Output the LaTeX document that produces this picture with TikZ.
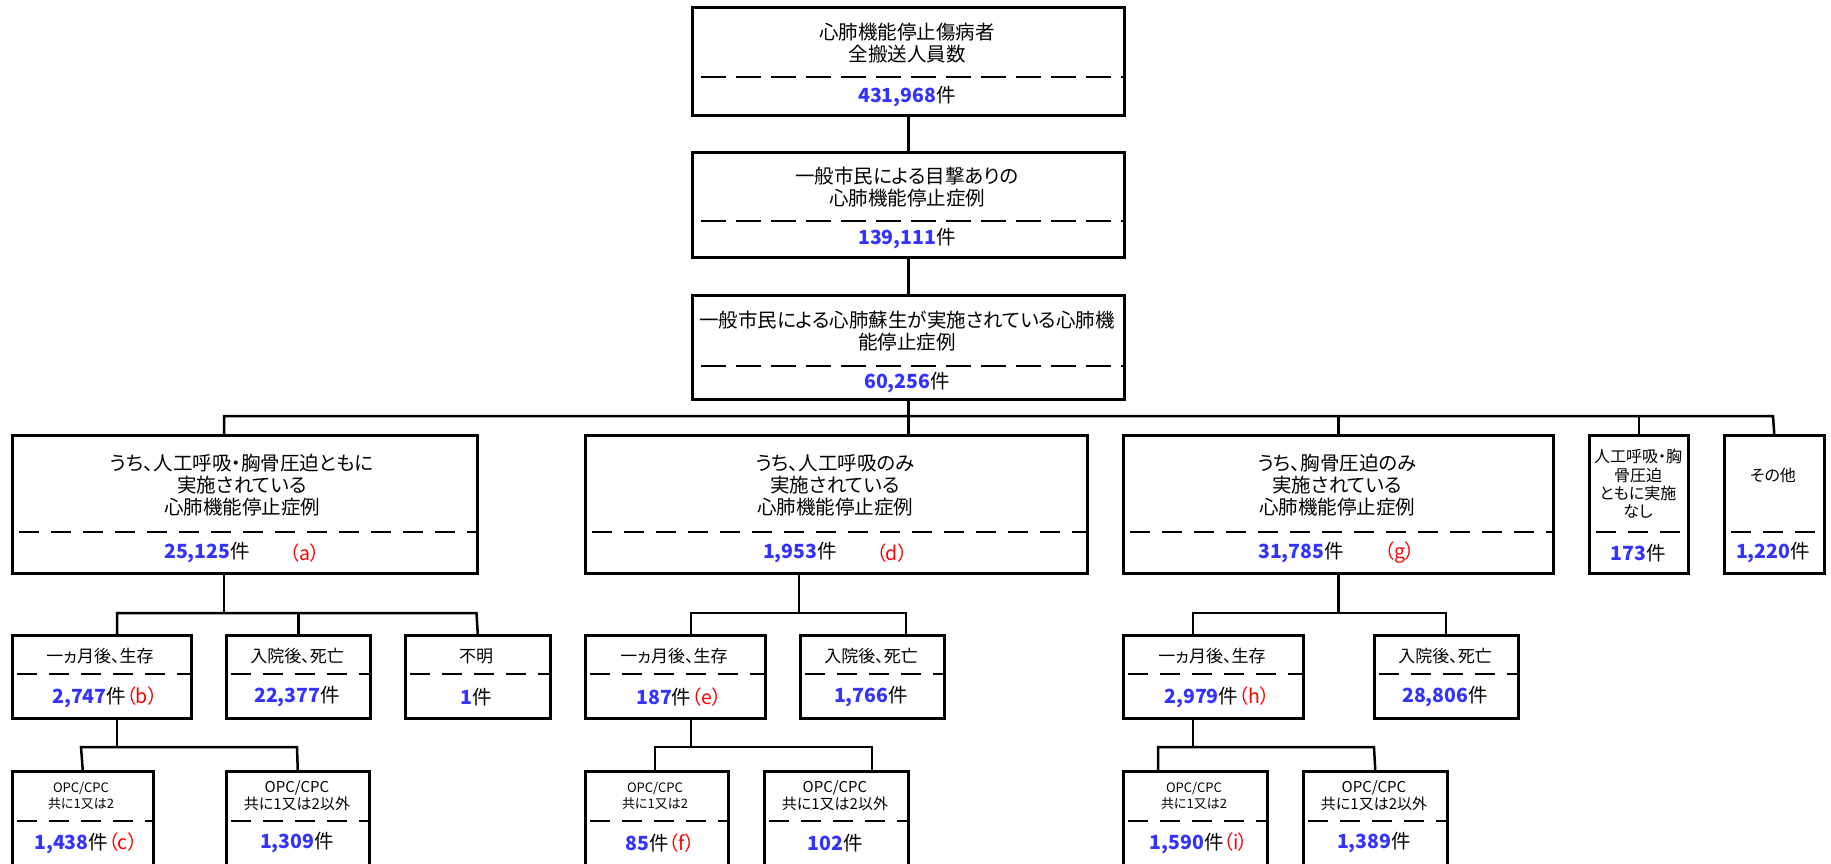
\documentclass[tikz,border=0pt]{standalone}
\usepackage{fontspec}
\setmainfont{Noto Sans CJK JP}[RawFeature=+palt]
\definecolor{numblue}{RGB}{51,51,255}
\definecolor{tagred}{RGB}{255,0,0}
\newcommand\numv[1]{{\bfseries\color{numblue}#1}}
\newcommand\tagr[1]{{\color{tagred}（#1）}}
\begin{document}
\begin{tikzpicture}[x=1pt,y=-1pt,
  panel/.style={draw, line width=2.5pt, rectangle, inner sep=0pt, anchor=north west},
  wire/.style={line width=2.5pt, line join=miter},
  divider/.style={line width=2.5pt, dash pattern=on 20pt off 12pt},
  divtop/.style={line width=2.5pt, dash pattern=on 25pt off 10pt},
  txtbig/.style={align=center, inner sep=0pt, font=\fontsize{19.5}{22}\selectfont},
  txtmid/.style={align=center, inner sep=0pt, font=\fontsize{16}{18.3}\selectfont},
  txtl4/.style={align=center, inner sep=0pt, font=\fontsize{17}{20}\selectfont},
  txtsm/.style={align=center, inner sep=0pt, font=\fontsize{13}{16}\selectfont},
  txtl5/.style={align=center, inner sep=0pt, font=\fontsize{15}{17}\selectfont},
  count/.style={inner sep=0pt, font=\fontsize{19.5}{22}\selectfont}]
\useasboundingbox (0,0) rectangle (1831,863);
\clip (0,0) rectangle (1831,863);

% ---- top chain ----
\node[panel, minimum width=432pt, minimum height=108pt] (top) at (691,6) {};
\node[panel, minimum width=432pt, minimum height=105pt] (wit) at (691,151) {};
\node[panel, minimum width=432pt, minimum height=104pt] (cpr) at (691,294) {};
\draw[divtop] (top.west |- 0,77) ++(10,0) -- (top.east |- 0,77);
\draw[divtop] (wit.west |- 0,221) ++(10,0) -- (wit.east |- 0,221);
\draw[divtop] (cpr.west |- 0,366) ++(10,0) -- (cpr.east |- 0,366);
\node[txtbig] (topL) at (907,43) {心肺機能停止傷病者\\全搬送人員数};
\node[count] (topN) at (907,97) {\numv{431,968}件};
\node[txtbig] (witL) at (907,187) {一般市民による目撃ありの\\心肺機能停止症例};
\node[count] (witN) at (907,239) {\numv{139,111}件};
\node[txtbig] (cprL) at (907,331) {一般市民による心肺蘇生が実施されている心肺機\\能停止症例};
\node[count] (cprN) at (907,383) {\numv{60,256}件};

% ---- second level ----
\node[panel, minimum width=465pt, minimum height=138pt] (a) at (11,434) {};
\node[panel, minimum width=502pt, minimum height=138pt] (d) at (584,434) {};
\node[panel, minimum width=430pt, minimum height=138pt] (g) at (1122,434) {};
\node[panel, minimum width=99pt, minimum height=138pt] (none) at (1588,434) {};
\node[panel, minimum width=100pt, minimum height=138pt] (other) at (1723,434) {};
\foreach \n in {a,d,g,none,other}
  \draw[divider] (\n.west |- 0,532) ++(8,0) -- (\n.east |- 0,532);
\node[txtbig] (aL) at (242,485) {うち、人工呼吸・胸骨圧迫ともに\\実施されている\\心肺機能停止症例};
\node[count] (aN) at (207,553) {\numv{25,125}件};
\node[count] (aT) at (305,553) {\tagr{a}};
\node[txtbig] (dL) at (835,485) {うち、人工呼吸のみ\\実施されている\\心肺機能停止症例};
\node[count] (dN) at (800,553) {\numv{1,953}件};
\node[count] (dT) at (892,553) {\tagr{d}};
\node[txtbig] (gL) at (1337,485) {うち、胸骨圧迫のみ\\実施されている\\心肺機能停止症例};
\node[count] (gN) at (1301,553) {\numv{31,785}件};
\node[count] (gT) at (1400,553) {\tagr{g}};
\node[txtmid] (noneL) at (1638,484) {人工呼吸・胸\\骨圧迫\\ともに実施\\なし};
\node[count] (noneN) at (1638,553) {\numv{173}件};
\node[txtmid] (otherL) at (1773,475) {その他};
\node[count] (otherN) at (1773,553) {\numv{1,220}件};

% ---- third level ----
\node[panel, minimum width=179pt, minimum height=83pt] (b) at (11,634) {};
\node[panel, minimum width=144pt, minimum height=83pt] (ba) at (225,634) {};
\node[panel, minimum width=145pt, minimum height=83pt] (bu) at (404,634) {};
\node[panel, minimum width=180pt, minimum height=83pt] (e) at (584,634) {};
\node[panel, minimum width=144pt, minimum height=83pt] (ea) at (799,634) {};
\node[panel, minimum width=180pt, minimum height=83pt] (h) at (1122,634) {};
\node[panel, minimum width=144pt, minimum height=83pt] (ha) at (1373,634) {};
\foreach \n in {b,ba,bu,e,ea,h,ha}
  \draw[divider] (\n.west |- 0,674) ++(6,0) -- (\n.east |- 0,674);
\node[txtl4] (bL) at (100,656) {一ヵ月後、生存};
\node[count] (bN) at (105,697) {\numv{2,747}件\tagr{b}};
\node[txtl4] (baL) at (297,656) {入院後、死亡};
\node[count] (baN) at (297,697) {\numv{22,377}件};
\node[txtl4] (buL) at (476,656) {不明};
\node[count] (buN) at (476,697) {\numv{1}件};
\node[txtl4] (eL) at (674,656) {一ヵ月後、生存};
\node[count] (eN) at (679,697) {\numv{187}件\tagr{e}};
\node[txtl4] (eaL) at (871,656) {入院後、死亡};
\node[count] (eaN) at (871,697) {\numv{1,766}件};
\node[txtl4] (hL) at (1212,656) {一ヵ月後、生存};
\node[count] (hN) at (1217,697) {\numv{2,979}件\tagr{h}};
\node[txtl4] (haL) at (1445,656) {入院後、死亡};
\node[count] (haN) at (1445,697) {\numv{28,806}件};

% ---- fourth level (runs past the lower edge) ----
\node[panel, minimum width=141pt, minimum height=130pt] (c) at (11,770) {};
\node[panel, minimum width=143pt, minimum height=130pt] (ca) at (225,770) {};
\node[panel, minimum width=143pt, minimum height=130pt] (f) at (584,770) {};
\node[panel, minimum width=144pt, minimum height=130pt] (fa) at (763,770) {};
\node[panel, minimum width=144pt, minimum height=130pt] (i) at (1122,770) {};
\node[panel, minimum width=144pt, minimum height=130pt] (ia) at (1302,770) {};
\foreach \n in {c,ca,f,fa,i,ia}
  \draw[divider] (\n.west |- 0,821) ++(6,0) -- (\n.east |- 0,821);
\node[txtsm] (cL) at (81,796) {OPC/CPC\\共に1又は2};
\node[count] (cN) at (86,843) {\numv{1,438}件\tagr{c}};
\node[txtl5] (caL) at (297,796) {OPC/CPC\\共に1又は2以外};
\node[count] (caN) at (297,843) {\numv{1,309}件};
\node[txtsm] (fL) at (655,796) {OPC/CPC\\共に1又は2};
\node[count] (fN) at (660,843) {\numv{85}件\tagr{f}};
\node[txtl5] (faL) at (835,796) {OPC/CPC\\共に1又は2以外};
\node[count] (faN) at (835,843) {\numv{102}件};
\node[txtsm] (iL) at (1194,796) {OPC/CPC\\共に1又は2};
\node[count] (iN) at (1199,843) {\numv{1,590}件\tagr{i}};
\node[txtl5] (iaL) at (1374,796) {OPC/CPC\\共に1又は2以外};
\node[count] (iaN) at (1374,843) {\numv{1,389}件};

% ---- connectors ----
\coordinate (busW) at (224,416);
\coordinate (busE) at (1773,416);
\draw[wire] (top.south) -- (wit.north);
\draw[wire] (wit.south) -- (cpr.north);
\draw[wire] (cpr.south) -- (cpr.south |- d.north);
\draw[wire] (busW |- a.north) -- (busW) -- (busE) -- (other.north);
\draw[wire] (g.north) -- (g.north |- busW);
\draw[wire] (none.north) -- (none.north |- busW);

% under a
\coordinate (aBusW) at (117,613);
\coordinate (aBusE) at (476.5,613);
\draw[wire] (a.south -| busW) -- (busW |- aBusW);
\draw[wire] (aBusW |- b.north) -- (aBusW) -- (aBusE) -- (bu.north);
\draw[wire] (ba.north) -- (ba.north |- aBusW);
% under b
\coordinate (bBusW) at (81,747);
\coordinate (bBusE) at (297,747);
\draw[wire] (b.south -| aBusW) -- (aBusW |- bBusW);
\draw[wire] (c.north) -- (bBusW) -- (bBusE) -- (ca.north);

% under d
\coordinate (dDrop) at (799,613);
\coordinate (dBusW) at (691,613);
\coordinate (dBusE) at (906,613);
\draw[wire] (d.south -| dDrop) -- (dDrop);
\draw[wire] (dBusW |- e.north) -- (dBusW) -- (dBusE) -- (dBusE |- ea.north);
% under e
\coordinate (eBusW) at (655,747);
\coordinate (eBusE) at (872,747);
\draw[wire] (e.south -| dBusW) -- (dBusW |- eBusW);
\draw[wire] (eBusW |- f.north) -- (eBusW) -- (eBusE) -- (eBusE |- fa.north);

% under g
\coordinate (gBusW) at (1193,613);
\coordinate (gBusE) at (1446,613);
\draw[wire] (g.south) -- (g.south |- gBusW);
\draw[wire] (gBusW |- h.north) -- (gBusW) -- (gBusE) -- (gBusE |- ha.north);
% under h
\coordinate (hBusW) at (1158,747);
\coordinate (hBusE) at (1374,747);
\draw[wire] (h.south -| gBusW) -- (gBusW |- hBusW);
\draw[wire] (hBusW |- i.north) -- (hBusW) -- (hBusE) -- (ia.north);
\end{tikzpicture}
\end{document}
